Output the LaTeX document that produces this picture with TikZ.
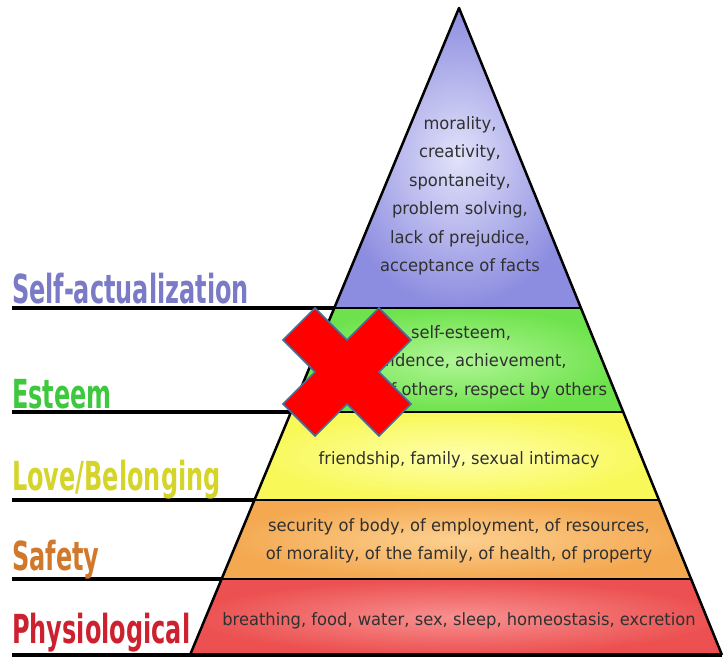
\documentclass[tikz,border=0pt]{standalone}
\usepackage{fontspec}
\setmainfont{DejaVu Sans}
\newfontfamily\lvlfont[FakeStretch=0.6]{DejaVu Sans}
\newfontfamily\needfont[FakeStretch=0.96]{DejaVu Sans}
\usetikzlibrary{calc}

\definecolor{selfcol}{HTML}{7A7AC6}
\definecolor{esteemcol}{HTML}{3EC83E}
\definecolor{lovecol}{HTML}{D4D42A}
\definecolor{safetycol}{HTML}{D0782C}
\definecolor{physcol}{HTML}{CC2230}
\definecolor{needgray}{HTML}{303030}
\definecolor{xblue}{HTML}{41719C}

\begin{document}
\begin{tikzpicture}[x=1pt,y=-1pt,
		lvl/.style={anchor=base west, inner sep=0pt, font=\lvlfont\bfseries\fontsize{40}{40}\selectfont},
		need/.style={align=center, inner sep=0pt, text=needgray, font=\needfont\fontsize{17}{28.5}\selectfont},
		edge/.style={line width=2.5pt, line join=round},
		shelf/.style={line width=3.5pt}]
			
			\useasboundingbox (0,0) rectangle (725,661);
			
			% corners of the pyramid and its layers
			\coordinate (apex) at (459,8);
			\coordinate (l1) at (334,308);	\coordinate (r1) at (581,308);
			\coordinate (l2) at (291,412);	\coordinate (r2) at (623,412);
			\coordinate (l3) at (254,500);	\coordinate (r3) at (659,500);
			\coordinate (l4) at (222,579);	\coordinate (r4) at (691,579);
			\coordinate (l5) at (190,655);	\coordinate (r5) at (722,655);
			
			% left ends of the shelves
			\coordinate (e1) at (12,308);
			\coordinate (e2) at (12,412);
			\coordinate (e3) at (12,500);
			\coordinate (e4) at (12,579);
			\coordinate (e5) at (12,655);
			
			\shade[inner color={rgb,255:red,226;green,226;blue,250}, outer color={rgb,255:red,140;green,140;blue,224}] (apex)--(r1)--(l1)--cycle;
			\shade[inner color={rgb,255:red,176;green,246;blue,150}, outer color={rgb,255:red,110;green,226;blue,76}] (l1)--(r1)--(r2)--(l2)--cycle;
			\shade[inner color={rgb,255:red,255;green,255;blue,170}, outer color={rgb,255:red,248;green,248;blue,88}] (l2)--(r2)--(r3)--(l3)--cycle;
			\shade[inner color={rgb,255:red,252;green,208;blue,144}, outer color={rgb,255:red,244;green,168;blue,80}] (l3)--(r3)--(r4)--(l4)--cycle;
			\shade[inner color={rgb,255:red,248;green,144;blue,144}, outer color={rgb,255:red,236;green,80;blue,80}] (l4)--(r4)--(r5)--(l5)--cycle;
			
			\draw[edge] (l5)--(apex)--(r5);
			\draw[line width=2pt] (l1)--(r1) (l2)--(r2) (l3)--(r3) (l4)--(r4);
			\draw[shelf] (e1)--(l1) (e2)--(l2) (e3)--(l3) (e4)--(l4) (e5)--(r5);
			
			\node[need] (selfn) at (460,196) {morality,\\creativity,\\spontaneity,\\problem solving,\\lack of prejudice,\\acceptance of facts};
			\node[need] (esteemn) at (461,362) {self-esteem,\\confidence, achievement,\\respect of others, respect by others};
			\node[need] (loven) at (459,460) {friendship, family, sexual intimacy};
			\node[need] (safetyn) at (459,541) {security of body, of employment, of resources,\\of morality, of the family, of health, of property};
			\node[need] (physn) at (459,621) {breathing, food, water, sex, sleep, homeostasis, excretion};
			
			\node[lvl, text=selfcol] (selfl) at (12,303) {Self-actualization};
			\node[lvl, text=esteemcol] (esteeml) at (12,408) {Esteem};
			\node[lvl, text=lovecol] (lovel) at (12,490) {Love/Belonging};
			\node[lvl, text=safetycol] (safetyl) at (12,570) {Safety};
			\node[lvl, text=physcol] (physl) at (12,643) {Physiological};
			
			% the cross over the esteem layer
			\filldraw[fill=red, draw=xblue, line width=1.5pt, line join=miter, shift={(347,372)}]
				(0,-32)--(32,-64)--(64,-32)--(32,0)--(64,32)--(32,64)--(0,32)--(-32,64)--(-64,32)--(-32,0)--(-64,-32)--(-32,-64)--cycle;
		\end{tikzpicture}
\end{document}
